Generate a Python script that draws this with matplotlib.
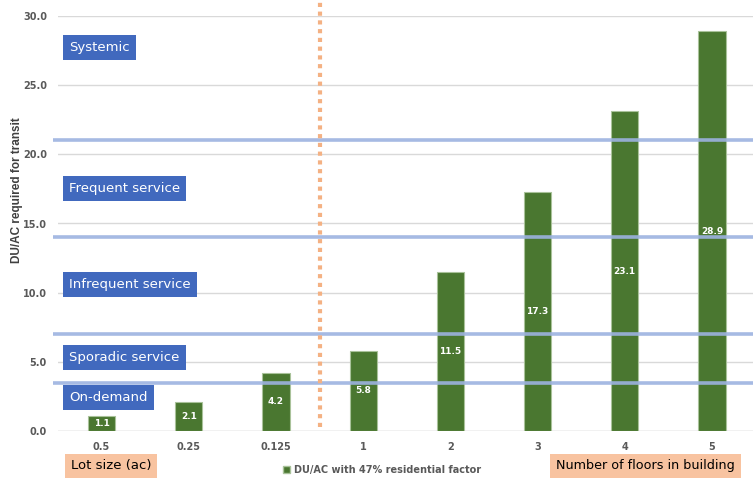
import matplotlib
matplotlib.use('Agg')
from matplotlib import pyplot as plt
from matplotlib.patches import Patch

categories = ['0.5', '0.25', '0.125', '1', '2', '3', '4', '5']
du_ac = [1.1, 2.1, 4.2, 5.8, 11.5, 17.3, 23.1, 28.9]
thresholds = [3.5, 7.0, 14.0, 21.0]
service_labels = ['On-demand', 'Sporadic service', 'Infrequent service', 'Frequent service', 'Systemic']
service_label_y = [2.4, 5.3, 10.6, 17.5, 27.7]
split_at = 2.5

green = '#4A7730'
blue_box = '#4169BE'
blue_line = '#9DB3E0'
orange = '#F8C3A0'
grey = '#595959'

fig = plt.figure(figsize=(7.53, 4.87), dpi=100)
ax = fig.add_axes([58 / 753, 56 / 487, 697.6 / 753, 415 / 487])

x = list(range(len(categories)))
ax.bar(x, du_ac, width=0.31, color=green, edgecolor='#A9C29A', linewidth=0.8, zorder=2)
for xi, v in zip(x, du_ac):
    ax.text(xi, v / 2, '{:.1f}'.format(v), ha='center', va='center', color='white',
            fontsize=6.5, fontweight='bold', zorder=5)

for t in thresholds:
    ax.plot([-0.56, 7.6], [t, t], color=blue_line, lw=2.6, alpha=0.9, zorder=3, clip_on=False,
            solid_capstyle='butt')

ax.plot([split_at, split_at], [0.3, 31.3], color='#F4B183', lw=3, linestyle=(0, (1, 1.1)),
        zorder=4, clip_on=False)

for lbl, y in zip(service_labels, service_label_y):
    ax.text(-0.37, y, lbl, ha='left', va='center', color='white', fontsize=9.5, zorder=6,
            bbox=dict(boxstyle='square,pad=0.45', facecolor=blue_box, edgecolor='none'))

ax.set_xlim(-0.5, 7.5)
ax.set_ylim(0, 30)
ax.set_yticks([0, 5, 10, 15, 20, 25, 30])
ax.set_yticklabels(['{:.1f}'.format(v) for v in [0, 5, 10, 15, 20, 25, 30]])
ax.set_xticks(x)
ax.set_xticklabels(categories)
ax.tick_params(length=0, labelsize=7, labelcolor=grey, pad=8)
for lab in ax.get_xticklabels() + ax.get_yticklabels():
    lab.set_fontweight('bold')
ax.grid(axis='y', color='#D9D9D9', lw=1, zorder=0)
for s in ax.spines.values():
    s.set_visible(False)
ax.axhline(0, color='#D9D9D9', lw=1, zorder=1)

fig.text(17 / 753, 297 / 487, 'DU/AC required for transit', rotation=90, ha='center', va='center',
         fontsize=8.5, fontweight='bold', color='#404040', family='Liberation Sans')

fig.text(71 / 753, 21 / 487, 'Lot size (ac)', ha='left', va='center', fontsize=9.5, color='black',
         bbox=dict(boxstyle='square,pad=0.45', facecolor=orange, edgecolor='none'))
fig.text(556 / 753, 21 / 487, 'Number of floors in building', ha='left', va='center', fontsize=9.2,
         color='black', bbox=dict(boxstyle='square,pad=0.45', facecolor=orange, edgecolor='none'))

leg = fig.legend(handles=[Patch(facecolor=green, edgecolor='#A9C29A')],
                 labels=['DU/AC with 47% residential factor'], loc='center',
                 bbox_to_anchor=(382 / 753, 17 / 487), frameon=False, fontsize=7,
                 handlelength=0.7, handleheight=0.7, handletextpad=0.4)
for t in leg.get_texts():
    t.set_color(grey)
    t.set_fontweight('bold')

fig.savefig('out.png', dpi=100)
